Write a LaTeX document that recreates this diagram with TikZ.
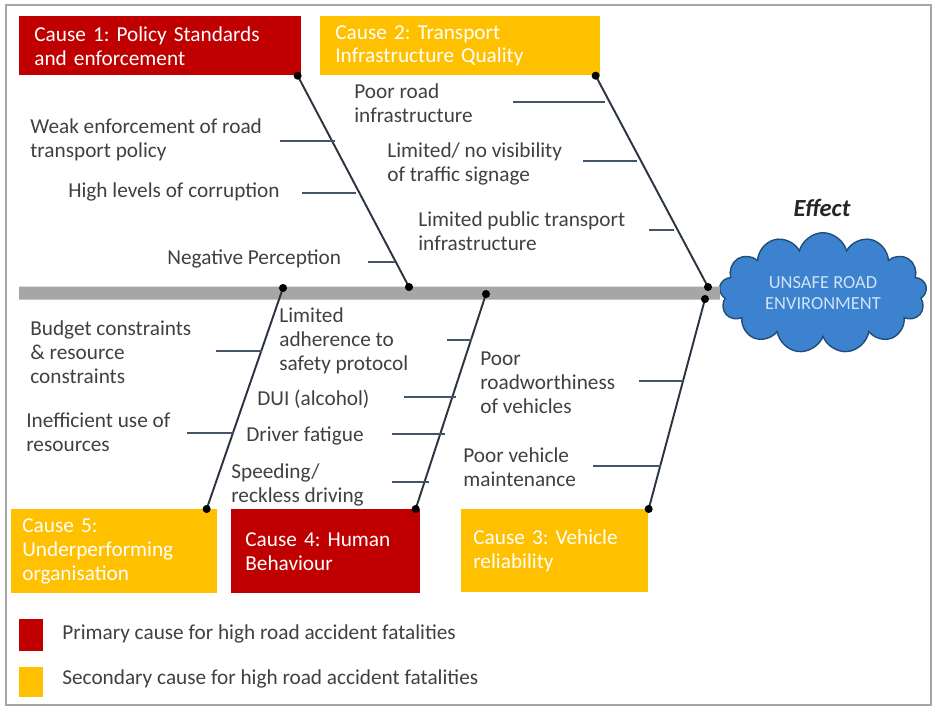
\documentclass[tikz,border=0pt]{standalone}
\usepackage{fontspec}
\setmainfont{Carlito}
\usetikzlibrary{shapes.symbols,calc}
\frenchspacing

\definecolor{causered}{HTML}{C00000}
\definecolor{causeyellow}{HTML}{FFC000}
\definecolor{spinegray}{HTML}{A6A6A6}
\definecolor{bonedark}{HTML}{2B3542}
\definecolor{tickslate}{HTML}{44546A}
\definecolor{labelgray}{HTML}{404040}
\definecolor{cloudblue}{HTML}{3C82CE}
\definecolor{cloudedge}{HTML}{1F4E79}
\definecolor{cloudtext}{HTML}{CFE4F7}

\tikzset{
  causebox/.style={rectangle, anchor=north west, text=white, align=left, inner xsep=0.3cm},
  primary/.style={causebox, fill=causered},
  secondary/.style={causebox, fill=causeyellow},
  factor/.style={anchor=west, align=left, inner sep=0pt, text=labelgray},
  bone/.style={draw=bonedark, line width=1.1pt},
  tick/.style={draw=tickslate, line width=1.1pt},
  spine/.style={draw=spinegray, line width=0.26cm},
  bonedot/.style={fill=black, radius=2.3pt}
}

\begin{document}
\begin{tikzpicture}[x=0.02cm,y=-0.02cm,font=\fontsize{12.1}{13.6}\selectfont]
\useasboundingbox (0,0) rectangle (933,706);
% Frame
\draw[gray!70, line width=0.8pt] (6,5) rectangle (931,705);

% Effect
\node[cloud, cloud puffs=13, aspect=2, draw=cloudedge, fill=cloudblue, line width=0.8pt,
  minimum width=4.15cm, minimum height=2.1cm, align=center, text=cloudtext,
  font=\fontsize{10.5}{11.5}\selectfont] (effect) at (823,293) {UNSAFE ROAD\\ENVIRONMENT};
\node[font=\fontsize{14}{16}\selectfont\bfseries\itshape, text=black!85] (efflabel) at (822,208) {Effect};

% Spine
\coordinate (tail) at (19,293);
\draw[spine] (tail) -- (effect.west);

% Cause boxes
\node[primary, minimum width=5.64cm, minimum height=1.18cm, text width=5.04cm] (c1) at (19,16)
  {Cause 1: Policy Standards\\and enforcement};
\node[secondary, minimum width=5.6cm, minimum height=1.18cm, text width=5.0cm] (c2) at (320,16)
  {Cause 2: Transport\\Infrastructure Quality};
\node[secondary, minimum width=4.12cm, minimum height=1.68cm, inner xsep=0.22cm, text width=3.68cm] (c5) at (11,509)
  {Cause 5:\\Underperforming\\organisation};
\node[primary, minimum width=3.78cm, minimum height=1.68cm, inner xsep=0.28cm, text width=3.22cm] (c4) at (231,509)
  {Cause 4: Human\\Behaviour};
\node[secondary, minimum width=3.74cm, minimum height=1.66cm, inner xsep=0.24cm, text width=3.26cm] (c3) at (461,509)
  {Cause 3: Vehicle\\reliability};

% Bones
\coordinate (j1) at (409,287);
\coordinate (j2) at (708,287);
\coordinate (j5) at (283,288);
\coordinate (j4) at (486,294);
\coordinate (j3) at (705,299);
\coordinate (s1) at ([xshift=-0.08cm]c1.south east);
\coordinate (s2) at ([xshift=-0.1cm]c2.south east);
\coordinate (s5) at ([xshift=-0.22cm]c5.north east);
\coordinate (s4) at ([xshift=-0.1cm]c4.north east);
\coordinate (s3) at (c3.north east);
\draw[bone] (s1) -- (j1);
\draw[bone] (s2) -- (j2);
\draw[bone] (s5) -- (j5);
\draw[bone] (s4) -- (j4);
\draw[bone] (s3) -- (j3);
\foreach \p in {j1,j2,j3,j4,j5,s1,s2,s3,s4,s5}
  \fill[bonedot] (\p) circle;

% Cause 1 factors
\node[factor] (f11) at (30,140) {Weak enforcement of road\\transport policy};
\node[factor] (f12) at (68,192) {High levels of corruption};
\node[factor] (f13) at (167,259) {Negative Perception};
\draw[tick] (280,141) -- (335,141);
\draw[tick] (302,193) -- (356,193);
\draw[tick] (368,262) -- (395,262);

% Cause 2 factors
\node[factor] (f21) at (354,103.5) {Poor road\\infrastructure};
\node[factor] (f22) at (387,163.5) {Limited/ no visibility\\of traffic signage};
\node[factor] (f23) at (418,231.5) {Limited public transport\\infrastructure};
\draw[tick] (513,102) -- (605,102);
\draw[tick] (583,161) -- (637,161);
\draw[tick] (649,230) -- (674,230);

% Cause 5 factors
\node[factor] (f51) at (30,352) {Budget constraints\\\& resource\\constraints};
\node[factor] (f52) at (26,432) {Inefficient use of\\resources};
\draw[tick] (216,351) -- (262,351);
\draw[tick] (187,433) -- (234,433);

% Cause 4 factors
\node[factor] (f41) at (279,340.5) {Limited\\adherence to\\safety protocol};
\node[factor] (f42) at (257,399) {DUI (alcohol)};
\node[factor] (f43) at (246,436) {Driver fatigue};
\node[factor] (f44) at (231,484.5) {Speeding/\\reckless driving};
\draw[tick] (447,340) -- (472,340);
\draw[tick] (404,397) -- (456,397);
\draw[tick] (392,434) -- (445,434);
\draw[tick] (392,482) -- (429,482);

% Cause 3 factors
\node[factor] (f31) at (480,382.5) {Poor\\roadworthiness\\of vehicles};
\node[factor] (f32) at (463,467.5) {Poor vehicle\\maintenance};
\draw[tick] (639,381) -- (683,381);
\draw[tick] (593,466) -- (661,466);

% Legend
\node[fill=causered, anchor=north west, minimum width=0.48cm, minimum height=0.64cm, inner sep=0pt] (keyred) at (19,619) {};
\node[fill=causeyellow, anchor=north west, minimum width=0.48cm, minimum height=0.6cm, inner sep=0pt] (keyyellow) at (19,667) {};
\node[factor] (keyredtext) at (62,634) {Primary cause for high road accident fatalities};
\node[factor] (keyyellowtext) at (62,679) {Secondary cause for high road accident fatalities};

\end{tikzpicture}
\end{document}
